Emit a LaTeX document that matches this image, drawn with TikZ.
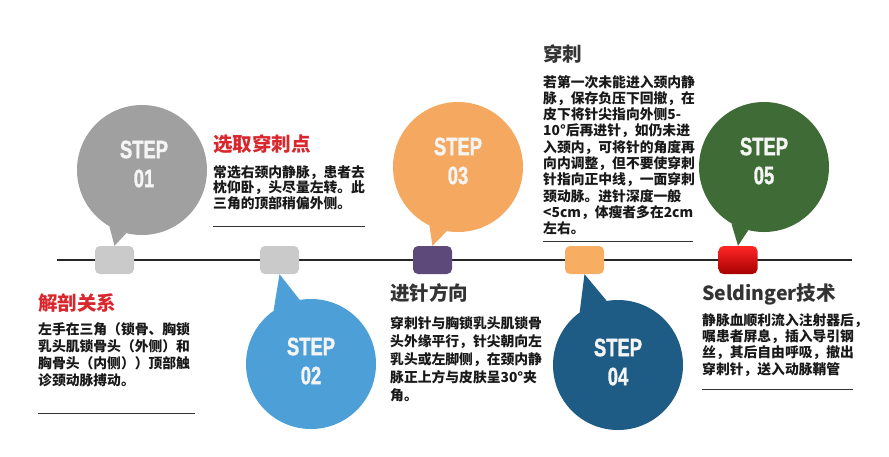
\documentclass[tikz,border=0pt]{standalone}
\usepackage{fontspec}
\usepackage{graphicx}
\setmainfont{Liberation Sans}
\newfontfamily\stepfont{Liberation Sans}[BoldFeatures={FakeBold=1.6}]
\newfontfamily\cjk{Noto Sans CJK SC}
\usetikzlibrary{calc}

\definecolor{linegray}{HTML}{262626}
\definecolor{bubblegray}{HTML}{A0A0A0}
\definecolor{boxgray}{HTML}{CACACA}
\definecolor{bubbleblue}{HTML}{4C9FD7}
\definecolor{bubbleorange}{HTML}{F4A860}
\definecolor{boxpurple}{HTML}{5D4A7A}
\definecolor{boxorange}{HTML}{F7AE62}
\definecolor{bubblenavy}{HTML}{1E5B85}
\definecolor{bubblegreen}{HTML}{3F6B36}
\definecolor{headred}{HTML}{D9272E}
\definecolor{headgray}{HTML}{333333}

\tikzstyle{bubble} = [circle, minimum size=130pt, inner sep=0pt]
\tikzstyle{steplabel} = [align=center, inner sep=0pt, text=white!96!black, font=\stepfont\bfseries\fontsize{20}{29}\selectfont]
\tikzstyle{stepbox} = [rectangle, rounded corners=5pt, minimum width=39pt, minimum height=28pt, inner sep=0pt]
\tikzstyle{head} = [anchor=base west, inner sep=0pt, font=\cjk\bfseries\fontsize{19.5}{22}\selectfont]
\tikzstyle{rule} = [draw=headgray, line width=0.8pt]
% body texts are placed by the baseline of their last line
\tikzset{body/.style={anchor=base west, inner sep=0pt, align=left, text=black!90, font=\cjk\bfseries\fontsize{13.8}{#1}\selectfont}}

\newcommand{\steptext}[1]{\scalebox{0.92}[1.25]{STEP}\\\scalebox{0.92}[1.25]{#1}}

\begin{document}
\begin{tikzpicture}[x=1pt, y=-1pt]
        \useasboundingbox[fill=white] (0,0) rectangle (889,456);
        % timeline
        \coordinate (tlstart) at (57,260);
        \coordinate (tlend) at (852,260);
        \draw [linegray, line width=2.5pt] (tlstart) -- (tlend);

        % markers on the line
        \node (box1) [stepbox] at (114.5,260) {};
        \node (box2) [stepbox] at (279.5,260) {};
        \node (box3) [stepbox] at (432.5,260) {};
        \node (box4) [stepbox] at (584.5,260) {};
        \node (box5) [stepbox] at (738,260) {};

        % bubbles
        \node (b1) [bubble, fill=bubblegray] at (142,170) {};
        \node (b2) [bubble, fill=bubbleblue] at (311,364) {};
        \node (b3) [bubble, fill=bubbleorange] at (458,167) {};
        \node (b4) [bubble, fill=bubblenavy] at (618,365) {};
        \node (b5) [bubble, fill=bubblegreen] at (764,167) {};
        \fill [bubblegray] (box1.north) -- (b1.240) -- (b1.256) -- cycle;
        \fill [bubbleblue] (box2.south) -- (b2.100) -- (b2.125) -- cycle;
        \fill [bubbleorange] (box3.north) -- (b3.244) -- (b3.260) -- cycle;
        \fill [bubblenavy] (box4.south) -- (b4.100) -- (b4.126) -- cycle;
        \fill [bubblegreen] (box5.north) -- (b5.240) -- (b5.256) -- cycle;

        \node [stepbox, fill=boxgray] at (box1) {};
        \node [stepbox, fill=boxgray] at (box2) {};
        \node [stepbox, fill=boxpurple] at (box3) {};
        \node [stepbox, fill=boxorange] at (box4) {};
        \node [stepbox, top color=red!85!white, bottom color=red!65!black] at (box5) {};

        \node (s1) [steplabel] at ([xshift=2pt, yshift=6pt]b1.center) {\steptext{01}};
        \node (s2) [steplabel] at ([yshift=3pt]b2.center) {\steptext{02}};
        \node (s3) [steplabel] at ([yshift=6pt]b3.center) {\steptext{03}};
        \node (s4) [steplabel] at ([yshift=3pt]b4.center) {\steptext{04}};
        \node (s5) [steplabel] at ([yshift=6pt]b5.center) {\steptext{05}};

        % texts
        \node (h1) [head, text=headred] at (38,310) {解剖关系};
        \node (t1) [body=17pt] at (38,385) {左手在三角（锁骨、胸锁\\乳头肌锁骨头（外侧）和\\胸骨头（内侧））顶部触\\诊颈动脉搏动。};
        \draw [rule] (38,413) -- (195,413);

        \node (h2) [head, text=headred] at (213,151) {选取穿刺点};
        \node (t2) [body=15.4pt] at (213,208) {常选右颈内静脉，患者去\\枕仰卧，头尽量左转。此\\三角的顶部稍偏外侧。};
        \draw [rule] (213,226) -- (365,226);

        \node (h3) [head, text=headgray] at (390,300) {进针方向};
        \node (t3) [body=18pt] at (390,400) {穿刺针与胸锁乳头肌锁骨\\头外缘平行，针尖朝向左\\乳头或左脚侧，在颈内静\\脉正上方与皮肤呈30°夹\\角。};

        \node (h4) [head, text=headgray] at (543,61) {穿刺};
        \node (t4) [body=16.3pt] at (543,233.7) {若第一次未能进入颈内静\\脉，保存负压下回撤，在\\皮下将针尖指向外侧5-\\10°后再进针，如仍未进\\入颈内，可将针的角度再\\向内调整，但不要使穿刺\\针指向正中线，一面穿刺\\颈动脉。进针深度一般\\<5cm，体瘦者多在2cm\\左右。};
        \draw [rule] (543,241) -- (693,241);

        \node (h5) [head, text=headgray] at (702,300) {Seldinger技术};
        \node (t5) [body=16.3pt] at (702,374) {静脉血顺利流入注射器后，\\嘱患者屏息，插入导引钢\\丝，其后自由呼吸，撤出\\穿刺针，送入动脉鞘管};
        \draw [rule] (702,389) -- (853,389);
    \end{tikzpicture}
\end{document}
